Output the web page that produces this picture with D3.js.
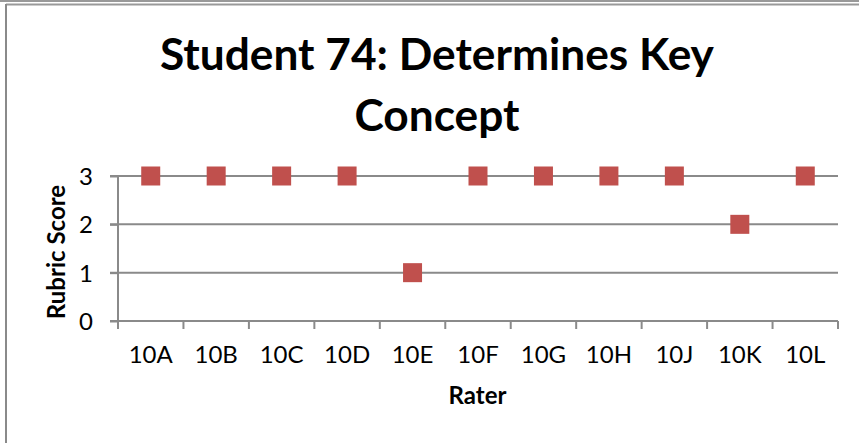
<!DOCTYPE html>
<html>
<head>
<meta charset="utf-8">
<script src="https://cdn.jsdelivr.net/npm/d3@7"></script>
<style>
  html, body { margin: 0; padding: 0; background: #fff; }
  svg { display: block; }
  text { font-family: Lato, "Open Sans", sans-serif; fill: #000; }
</style>
</head>
<body>
<svg id="chart" width="859" height="443"></svg>
<script>
const raters = ["10A","10B","10C","10D","10E","10F","10G","10H","10J","10K","10L"];
const scores = [3, 3, 3, 3, 1, 3, 3, 3, 3, 2, 3];
const yTicks = [0, 1, 2, 3];
const titleLines = ["Student 74: Determines Key", "Concept"];
const xTitle = "Rater";
const yTitle = "Rubric Score";

(function () {
const W = 859, H = 443;
const svg = d3.select("#chart");
const gridColor = "#8a8a8a";

// chart frame
svg.append("line").attr("x1", 0).attr("x2", W).attr("y1", 1).attr("y2", 1)
  .attr("stroke", "#999").attr("stroke-width", 2);
svg.append("line").attr("x1", 6).attr("x2", W).attr("y1", 4.5).attr("y2", 4.5)
  .attr("stroke", "#999").attr("stroke-width", 2);
svg.append("line").attr("x1", 6).attr("x2", 6).attr("y1", 4).attr("y2", H)
  .attr("stroke", "#8a8a8a").attr("stroke-width", 2);

const pLeft = 118, pRight = 838, pTop = 176, pBottom = 321;
const x = d3.scaleBand().domain(raters).range([pLeft, pRight]).padding(0);
const y = d3.scaleLinear().domain([0, 3]).range([pBottom, pTop]);

// gridlines
svg.append("g").selectAll("line").data(yTicks.filter(d => d > 0)).join("line")
  .attr("x1", pLeft - 8).attr("x2", pRight)
  .attr("y1", d => y(d)).attr("y2", d => y(d))
  .attr("stroke", gridColor).attr("stroke-width", 2);

// y axis
const yAxis = svg.append("g").attr("transform", `translate(${pLeft},0)`)
  .call(d3.axisLeft(y).tickValues(yTicks).tickSize(8).tickPadding(17).tickFormat(d3.format("d")));
yAxis.select(".domain").attr("stroke", gridColor).attr("stroke-width", 2)
  .attr("d", `M0,${pTop}V${pBottom + 8}`);
yAxis.selectAll(".tick line").attr("stroke", gridColor).attr("stroke-width", 2);
yAxis.selectAll(".tick text").attr("font-size", 24).attr("font-family", "Lato, sans-serif")
  .attr("fill", "#000").attr("dy", "0.35em");

// x axis
const xAxis = svg.append("g").attr("transform", `translate(0,${pBottom})`)
  .call(d3.axisBottom(x).tickSize(0).tickPadding(25));
xAxis.select(".domain").attr("stroke", gridColor).attr("stroke-width", 2)
  .attr("d", `M${pLeft - 8},0H${pRight}`);
xAxis.selectAll(".tick text").attr("font-size", 24).attr("font-family", "Lato, sans-serif")
  .attr("fill", "#000");
// category boundary ticks
const bounds = raters.map(r => x(r)).concat([x(raters[raters.length - 1]) + x.bandwidth()]);
svg.append("g").selectAll("line").data(bounds).join("line")
  .attr("x1", d => d).attr("x2", d => d)
  .attr("y1", pBottom).attr("y2", pBottom + 8)
  .attr("stroke", gridColor).attr("stroke-width", 2);

// markers
const ms = 19;
svg.append("g").selectAll("rect").data(raters.map((r, i) => ({r, v: scores[i]}))).join("rect")
  .attr("x", d => x(d.r) + x.bandwidth() / 2 - ms / 2)
  .attr("y", d => y(d.v) - ms / 2)
  .attr("width", ms).attr("height", ms)
  .attr("fill", "#C0504D");

// title
const t1 = svg.append("text").attr("x", 437).attr("y", 70).attr("text-anchor", "middle")
  .attr("font-weight", "bold").attr("font-size", 40).text(titleLines[0]);
const w1 = t1.node().getComputedTextLength();
const fs = 40 * 554 / w1;
t1.attr("font-size", fs);
svg.append("text").attr("x", 437).attr("y", 131).attr("text-anchor", "middle")
  .attr("font-weight", "bold").attr("font-size", fs).text(titleLines[1]);

// axis titles
svg.append("text").attr("x", 477.5).attr("y", 404).attr("text-anchor", "middle")
  .attr("font-weight", "bold").attr("font-size", 24).text(xTitle);
svg.append("text").attr("transform", "translate(65,252) rotate(-90)").attr("text-anchor", "middle")
  .attr("font-weight", "bold").attr("font-size", 24).text(yTitle);
})();
</script>
</body>
</html>
